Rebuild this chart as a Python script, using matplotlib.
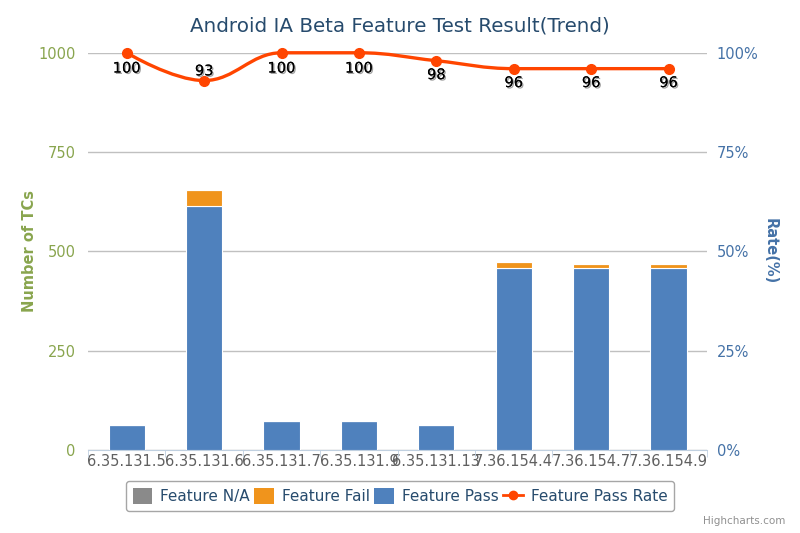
import matplotlib
matplotlib.use("Agg")
import matplotlib.pyplot as plt
import matplotlib.patheffects as pe
from matplotlib.path import Path
from matplotlib.patches import PathPatch, Patch
from matplotlib.lines import Line2D
import numpy as np

plt.rcParams['font.family'] = ['DejaVu Sans']

versions = ["6.35.131.5", "6.35.131.6", "6.35.131.7", "6.35.131.9",
            "6.35.131.13", "7.36.154.4", "7.36.154.7", "7.36.154.9"]
feature_na = [0, 0, 0, 0, 0, 0, 0, 0]
feature_fail = [0, 40, 0, 0, 0, 15, 11, 11]
feature_pass = [62, 615, 72, 72, 62, 457, 457, 457]
pass_rate = [100, 93, 100, 100, 98, 96, 96, 96]

C_NA = "#8a8a8a"
C_FAIL = "#f0941c"
C_PASS = "#4f81bd"
C_RATE = "#ff4500"
C_LEFT = "#89a54e"
C_RIGHT = "#4572a7"
C_TITLE = "#274b6d"


def spline_path(xs, ys, smoothing=1.5):
    # highcharts style spline control points
    n = len(xs)
    left = [None] * n
    right = [None] * n
    for i in range(1, n - 1):
        px, py = xs[i], ys[i]
        lx, ly = xs[i - 1], ys[i - 1]
        nx, ny = xs[i + 1], ys[i + 1]
        d = smoothing + 1
        lcx = (smoothing * px + lx) / d
        lcy = (smoothing * py + ly) / d
        rcx = (smoothing * px + nx) / d
        rcy = (smoothing * py + ny) / d
        if rcx != lcx:
            corr = ((rcy - lcy) * (rcx - px)) / (rcx - lcx) + py - rcy
            lcy += corr
            rcy += corr
        if lcy > ly and lcy > py:
            lcy = max(ly, py)
            rcy = 2 * py - lcy
        elif lcy < ly and lcy < py:
            lcy = min(ly, py)
            rcy = 2 * py - lcy
        if rcy > ny and rcy > py:
            rcy = max(ny, py)
            lcy = 2 * py - rcy
        elif rcy < ny and rcy < py:
            rcy = min(ny, py)
            lcy = 2 * py - rcy
        left[i] = (lcx, lcy)
        right[i] = (rcx, rcy)
    verts = [(xs[0], ys[0])]
    codes = [Path.MOVETO]
    for i in range(1, n):
        c1 = right[i - 1] if right[i - 1] else (xs[i - 1], ys[i - 1])
        c2 = left[i] if left[i] else (xs[i], ys[i])
        verts += [c1, c2, (xs[i], ys[i])]
        codes += [Path.CURVE4] * 3
    return Path(verts, codes)


fig = plt.figure(figsize=(8, 5.33), dpi=100)
ax = fig.add_axes([0.11, 0.156, 0.774, 0.745])
ax2 = ax.twinx()

x = np.arange(len(versions))
w = 0.47
ax.bar(x, feature_pass, w, color=C_PASS, edgecolor="white", linewidth=0.8, zorder=3)
ax.bar(x, feature_fail, w, bottom=feature_pass, color=C_FAIL, edgecolor="white",
       linewidth=0.8, zorder=3)
na_bottom = [p + f for p, f in zip(feature_pass, feature_fail)]
ax.bar(x, feature_na, w, bottom=na_bottom, color=C_NA, edgecolor="white",
       linewidth=0.8, zorder=3)

ax.set_xlim(-0.5, len(versions) - 0.5)
ax.set_ylim(0, 1000)
ax.set_yticks([0, 250, 500, 750, 1000])
ax.grid(axis="y", color="#c0c0c0", linewidth=1, zorder=0)
ax.set_axisbelow(True)
for s in ["top", "left", "right"]:
    ax.spines[s].set_visible(False)
ax.spines["bottom"].set_color("#c0d0e0")
ax.tick_params(axis="y", length=0, colors=C_LEFT, labelsize=10.5, pad=9)
ax.set_xticks(x)
ax.set_xticklabels(versions, fontsize=10.5, color="#606060")
ax.set_xticks(np.arange(len(versions) + 1) - 0.5, minor=True)
ax.tick_params(axis="x", which="major", length=0, pad=3)
ax.tick_params(axis="x", which="minor", length=5, color="#c0d0e0")
ax.set_ylabel("Number of TCs", color=C_LEFT, fontsize=10.5, fontweight="bold", labelpad=1)

ax2.set_ylim(0, 100)
ax2.set_yticks([0, 25, 50, 75, 100])
ax2.set_yticklabels(["0%", "25%", "50%", "75%", "100%"])
ax2.tick_params(axis="y", length=0, colors=C_RIGHT, labelsize=10.5, pad=7)
for s in ["top", "left", "right", "bottom"]:
    ax2.spines[s].set_visible(False)
ax2.set_ylabel("Rate(%)", color=C_RIGHT, fontsize=10.5, fontweight="bold",
               rotation=270, labelpad=14)

path = spline_path(list(x), pass_rate)
ax2.add_patch(PathPatch(path, facecolor="none", edgecolor=C_RATE, linewidth=2.4,
                        zorder=4, clip_on=False))
ax2.plot(x, pass_rate, "o", color=C_RATE, markersize=7, zorder=5, clip_on=False)

label_offsets = [-11, 7, -11, -11, -10, -10, -10, -10]
for xi, r, off in zip(x, pass_rate, label_offsets):
    ax2.annotate(str(r), (xi, r), xytext=(0, off), textcoords="offset points",
                 ha="center", va="center", fontsize=10.5, color="black", zorder=6,
                 path_effects=[pe.withSimplePatchShadow(offset=(1, -1), shadow_rgbFace="#888888", alpha=0.8),
                               pe.Normal()])

fig.text(0.5, 0.951, "Android IA Beta Feature Test Result(Trend)", ha="center",
         va="center", fontsize=14.3, color=C_TITLE)

handles = [Patch(facecolor=C_NA), Patch(facecolor=C_FAIL), Patch(facecolor=C_PASS),
           Line2D([0], [0], color=C_RATE, marker="o", linewidth=2, markersize=6)]
labels = ["Feature N/A", "Feature Fail", "Feature Pass", "Feature Pass Rate"]
leg = fig.legend(handles, labels, loc="center", bbox_to_anchor=(0.5, 0.069), ncol=4,
                 frameon=True, fontsize=11, handlelength=1.3, handleheight=1.2,
                 handletextpad=0.5, columnspacing=0.3, borderpad=0.45, fancybox=True)
leg.get_frame().set_edgecolor("#909090")
leg.get_frame().set_linewidth(1)
for t in leg.get_texts():
    t.set_color(C_TITLE)

fig.text(0.982, 0.022, "Highcharts.com", ha="right", va="center", fontsize=7.5, color="#909090")

fig.savefig("out.png", dpi=100)
